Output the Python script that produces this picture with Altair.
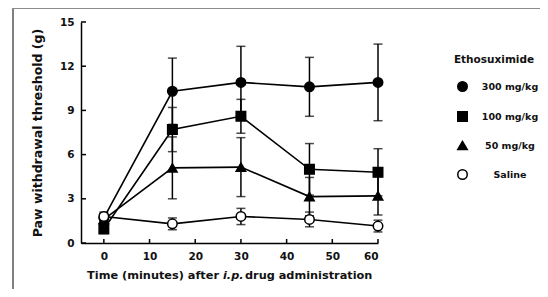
import altair as alt
import pandas as pd

times = [0, 15, 30, 45, 60]
series_names = ["300 mg/kg", "100 mg/kg", "50 mg/kg", "Saline"]
means = {
    "300 mg/kg": [1.7, 10.3, 10.9, 10.6, 10.9],
    "100 mg/kg": [0.95, 7.7, 8.6, 5.0, 4.8],
    "50 mg/kg": [1.6, 5.1, 5.15, 3.15, 3.2],
    "Saline": [1.8, 1.3, 1.8, 1.6, 1.15],
}
errors = {
    "300 mg/kg": [0.3, 2.25, 2.45, 2.0, 2.6],
    "100 mg/kg": [0.3, 1.5, 1.15, 1.75, 1.6],
    "50 mg/kg": [0.3, 2.1, 2.0, 1.3, 1.3],
    "Saline": [0.3, 0.4, 0.55, 0.5, 0.4],
}
shapes = ["circle", "square", "triangle-up", "circle"]
fills = ["black", "black", "black", "white"]
strokes = ["black", "black", "black", "black"]
y_ticks = [0, 3, 6, 9, 12, 15]
x_ticks = [0, 10, 20, 30, 40, 50, 60]
legend_title = "Ethosuximide"

rows = []
for s in series_names:
    for t, m, e in zip(times, means[s], errors[s]):
        rows.append({"time": t, "series": s, "mean": m, "lo": m - e, "hi": m + e})
df = pd.DataFrame(rows)

FONT = "DejaVu Sans"
W, H = 297, 221

xs = alt.Scale(domain=[-5, 60], nice=False, zero=False)
ys = alt.Scale(domain=[0, 15], nice=False)

base = alt.Chart(df)

err = base.mark_rule(color="black", strokeWidth=1.5).encode(
    x=alt.X("time:Q", scale=xs),
    y=alt.Y("lo:Q", scale=ys),
    y2="hi:Q",
)
cap_lo = base.mark_tick(color="black", thickness=1.5, size=9, orient="horizontal").encode(
    x=alt.X("time:Q", scale=xs), y=alt.Y("lo:Q", scale=ys)
)
cap_hi = base.mark_tick(color="black", thickness=1.5, size=9, orient="horizontal").encode(
    x=alt.X("time:Q", scale=xs), y=alt.Y("hi:Q", scale=ys)
)
lines = base.mark_line(color="black", strokeWidth=1.6).encode(
    x=alt.X("time:Q", scale=xs),
    y=alt.Y("mean:Q", scale=ys),
    detail="series:N",
)
leg = alt.Legend(orient="none", legendX=376, legendY=59)
points = base.mark_point(filled=True, strokeWidth=1.5, size=90, opacity=1).encode(
    x=alt.X(
        "time:Q",
        scale=xs,
        axis=alt.Axis(values=x_ticks, ticks=False, title=None, labelPadding=8),
    ),
    y=alt.Y(
        "mean:Q",
        scale=ys,
        axis=alt.Axis(values=y_ticks, ticks=False, title="Paw withdrawal threshold (g)",
                      labelPadding=7, titlePadding=15, titleFontSize=12.5),
    ),
    shape=alt.Shape("series:N", scale=alt.Scale(domain=series_names, range=shapes),
                    title=None, legend=leg),
    fill=alt.Fill("series:N", scale=alt.Scale(domain=series_names, range=fills),
                  title=None, legend=leg),
    stroke=alt.Stroke("series:N", scale=alt.Scale(domain=series_names, range=strokes),
                      title=None, legend=leg),
)

xt = alt.Chart(pd.DataFrame({"t": x_ticks})).mark_rule(color="black", strokeWidth=1.5).encode(
    x=alt.X("t:Q", scale=xs), y=alt.value(H), y2=alt.value(H - 4)
)
yt = alt.Chart(pd.DataFrame({"t": y_ticks})).mark_rule(color="black", strokeWidth=1.5).encode(
    y=alt.Y("t:Q", scale=ys), x=alt.value(0), x2=alt.value(5)
)

one = pd.DataFrame({"a": [0]})
TS = 11.3
title_parts = alt.layer(
    alt.Chart(one).mark_text(text="Time (minutes) after", font=FONT, fontSize=TS,
                             fontWeight="bold", align="right", color="#111").encode(
        x=alt.value(138), y=alt.value(254)),
    alt.Chart(one).mark_text(text="i.p.", font=FONT, fontSize=TS, fontWeight="bold",
                             fontStyle="italic", align="left", color="#111").encode(
        x=alt.value(142), y=alt.value(254)),
    alt.Chart(one).mark_text(text="drug administration", font=FONT, fontSize=TS,
                             fontWeight="bold", align="left", color="#111").encode(
        x=alt.value(164), y=alt.value(254)),
    alt.Chart(one).mark_text(text=legend_title, font=FONT, fontSize=10.5,
                             fontWeight="bold", align="center", color="#111").encode(
        x=alt.value(413), y=alt.value(38)),
)

frame = alt.layer(
    alt.Chart(one).mark_rect(color="#e6e6e6").encode(
        x=alt.value(-68), x2=alt.value(459), y=alt.value(271), y2=alt.value(272)
    ),
    alt.Chart(one).mark_rect(color="#808080").encode(
        x=alt.value(-69), x2=alt.value(-67), y=alt.value(-15), y2=alt.value(275)
    ),
    alt.Chart(one).mark_rect(color="#8c8c8c").encode(
        x=alt.value(-69), x2=alt.value(459), y=alt.value(-15), y2=alt.value(-13)
    ),
)

chart = alt.layer(frame, err, cap_lo, cap_hi, lines, points, xt, yt, title_parts).properties(
    width=W,
    height=H,
    autosize=alt.AutoSizeParams(type="none"),
    padding={"left": 73, "top": 14, "right": 162, "bottom": 46},
).configure_view(stroke=None).configure_axis(
    domainColor="black",
    domainWidth=1.5,
    grid=False,
    labelFont=FONT,
    labelFontSize=10.5,
    labelFontWeight="bold",
    labelColor="#111",
    titleFont=FONT,
    titleFontSize=11,
    titleFontWeight="bold",
    titleColor="#111",
).configure_legend(
    labelFont=FONT,
    labelFontSize=9.5,
    labelFontWeight="bold",
    labelColor="#111",
    labelAlign="center",
    labelOffset=42,
    symbolSize=90,
    symbolStrokeWidth=1.5,
    rowPadding=13,
)

chart.save("out.html", embed_options={"renderer": "svg", "actions": False})
